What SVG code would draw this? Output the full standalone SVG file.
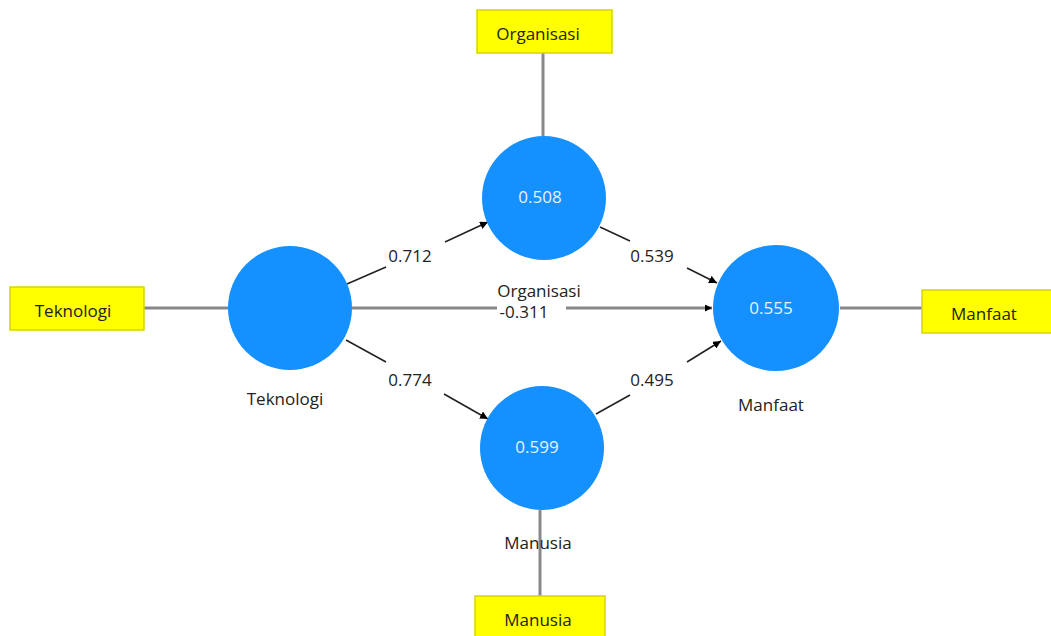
<svg xmlns="http://www.w3.org/2000/svg" width="1051" height="636" viewBox="0 0 1051 636">
<style>
.box{fill:#ffff00;stroke:#d6d600;stroke-width:1.5}
.lv{fill:#1590ff}
.t{font-family:"Open Sans","Noto Sans","Liberation Sans",sans-serif;font-size:17px;fill:#222;text-anchor:middle}
.w{fill:#e8f2ff}
.ld{stroke:#888;stroke-width:3;fill:none}
.pa{stroke:#222;stroke-width:1.6;fill:none}
</style>
<defs>
<marker id="ah" viewBox="0 0 10 10" refX="10" refY="5" markerWidth="7" markerHeight="7" markerUnits="userSpaceOnUse" orient="auto"><path d="M0,0 L10,5 L0,10 z" fill="#000"/></marker>
<marker id="ah2" viewBox="0 0 10 10" refX="10" refY="5" markerWidth="5" markerHeight="5" markerUnits="strokeWidth" orient="auto"><path d="M0,0 L10,5 L0,10 z" fill="#000"/></marker>
</defs>
<g id="connectors">
<line class="ld" x1="144" y1="308" x2="228" y2="308"/>
<line class="ld" x1="543" y1="53" x2="543" y2="136"/>
<line class="ld" x1="840" y1="308" x2="922" y2="308"/>
<line class="ld" x1="540" y1="510" x2="540" y2="596"/>
<line class="pa" x1="347" y1="284" x2="386" y2="267"/>
<line class="pa" x1="445" y1="242" x2="488" y2="222" marker-end="url(#ah2)"/>
<line class="pa" x1="346" y1="340" x2="386" y2="362"/>
<line class="pa" x1="444" y1="394" x2="488" y2="419" marker-end="url(#ah2)"/>
<line class="pa" x1="600" y1="227" x2="630" y2="241"/>
<line class="pa" x1="687" y1="268" x2="717" y2="283" marker-end="url(#ah2)"/>
<line class="pa" x1="596" y1="414" x2="630" y2="395"/>
<line class="pa" x1="687" y1="362" x2="721" y2="341" marker-end="url(#ah2)"/>
<line class="ld" x1="352" y1="308" x2="497" y2="308"/>
<line class="ld" x1="566" y1="308" x2="712" y2="308" marker-end="url(#ah)"/>
<text class="t" x="410" y="262">0.712</text>
<text class="t" x="410" y="386">0.774</text>
<text class="t" x="652" y="262">0.539</text>
<text class="t" x="652" y="386">0.495</text>
<text class="t" x="524" y="318">-0.311</text>
</g>
<g id="teknologi-box"><rect class="box" x="10" y="287" width="134" height="43"/><text class="t" x="73" y="317">Teknologi</text></g>
<g id="organisasi-box"><rect class="box" x="477" y="10" width="135" height="43"/><text class="t" x="538" y="40">Organisasi</text></g>
<g id="manfaat-box"><rect class="box" x="922" y="290" width="130" height="43"/><text class="t" x="984" y="320">Manfaat</text></g>
<g id="manusia-box"><rect class="box" x="475" y="596" width="130" height="43"/><text class="t" x="538" y="626">Manusia</text></g>
<g id="teknologi"><circle class="lv" cx="290" cy="308" r="62"/><text class="t" x="285" y="405">Teknologi</text></g>
<g id="organisasi"><circle class="lv" cx="544" cy="198" r="62"/><text class="t w" x="540" y="203">0.508</text><text class="t" x="539" y="297">Organisasi</text></g>
<g id="manusia"><circle class="lv" cx="542" cy="448" r="62"/><text class="t w" x="537" y="453">0.599</text><text class="t" x="538" y="549">Manusia</text></g>
<g id="manfaat"><circle class="lv" cx="776" cy="308" r="63"/><text class="t w" x="771" y="314">0.555</text><text class="t" x="771" y="411">Manfaat</text></g>
</svg>
